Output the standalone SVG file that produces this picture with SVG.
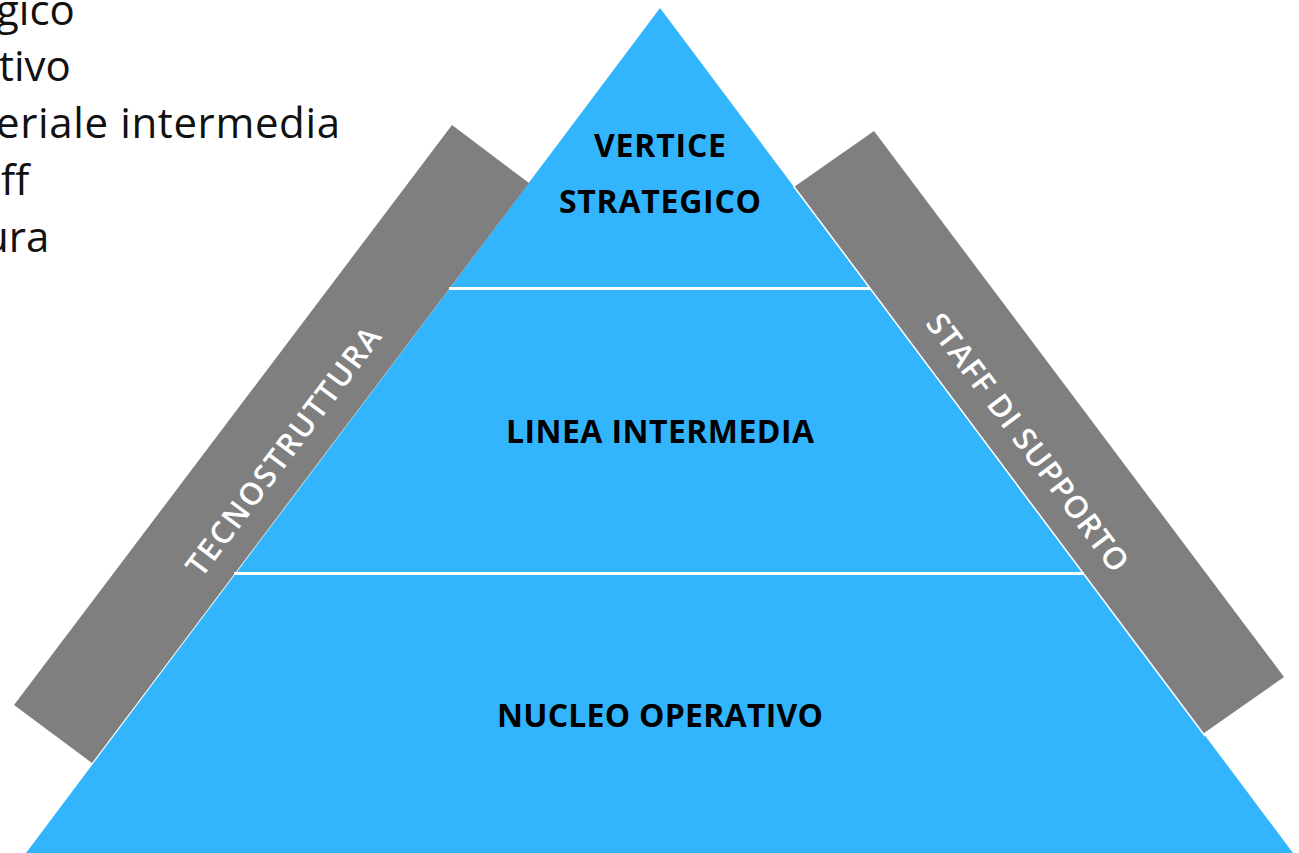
<svg xmlns="http://www.w3.org/2000/svg" width="1299" height="853" viewBox="0 0 1299 853">
  <style>
    .bar { fill: #7f7f7f; }
    .tri { fill: #33b5fe; }
    .sep { stroke: #ffffff; stroke-width: 3; }
    .lbl { font-family: "Open Sans", "Liberation Sans", sans-serif; font-weight: 700; font-size: 32px; fill: #000000; text-anchor: middle; }
    .side { font-family: "Open Sans", "Liberation Sans", sans-serif; font-weight: 600; font-size: 31px; fill: #ffffff; text-anchor: middle; }
    .list { font-family: "Open Sans", "Liberation Sans", sans-serif; font-weight: 400; font-size: 42px; fill: #111111; }
  </style>
  <rect x="0" y="0" width="1299" height="853" fill="#ffffff"/>

  <g id="list-text">
    <text class="list" x="-4" y="25">gico</text>
    <text class="list" x="-1" y="81">tivo</text>
    <text class="list" x="-4" y="138" textLength="344" lengthAdjust="spacing">eriale intermedia</text>
    <text class="list" x="1" y="195" textLength="33" lengthAdjust="spacing">ff</text>
    <text class="list" x="-17" y="252">ura</text>
  </g>

  <g id="staff-di-supporto">
    <polygon class="bar" points="874,131 1284,677 1184,747 774,201"/>
  </g>

  <g id="pyramid">
    <polygon class="tri" points="660,8 1293,853 26,853"/>
    <line x1="793.5" y1="186" x2="1205" y2="736" stroke="#ffffff" stroke-width="1.5"/>
  </g>

  <g id="tecnostruttura">
    <polygon class="bar" points="452,125 529,183 92,763 14,705"/>
    <text class="side" transform="translate(292,458) rotate(-53.13)" textLength="302" lengthAdjust="spacing">TECNOSTRUTTURA</text>
  </g>

  <g id="staff-label">
    <text class="side" transform="translate(1019,449) rotate(53.13)" textLength="314" lengthAdjust="spacing">STAFF DI SUPPORTO</text>
  </g>

  <g id="connectors">
    <line class="sep" x1="449" y1="288.5" x2="870" y2="288.5"/>
    <line class="sep" x1="234" y1="573.5" x2="1084" y2="573.5"/>
  </g>

  <g id="vertice-strategico">
    <text class="lbl" x="660" y="157" textLength="132" lengthAdjust="spacing">VERTICE</text>
    <text class="lbl" x="660" y="213" textLength="202" lengthAdjust="spacing">STRATEGICO</text>
  </g>

  <g id="linea-intermedia">
    <text class="lbl" x="660" y="443" textLength="308" lengthAdjust="spacing">LINEA INTERMEDIA</text>
  </g>

  <g id="nucleo-operativo">
    <text class="lbl" x="660" y="727" textLength="326" lengthAdjust="spacing">NUCLEO OPERATIVO</text>
  </g>
</svg>
